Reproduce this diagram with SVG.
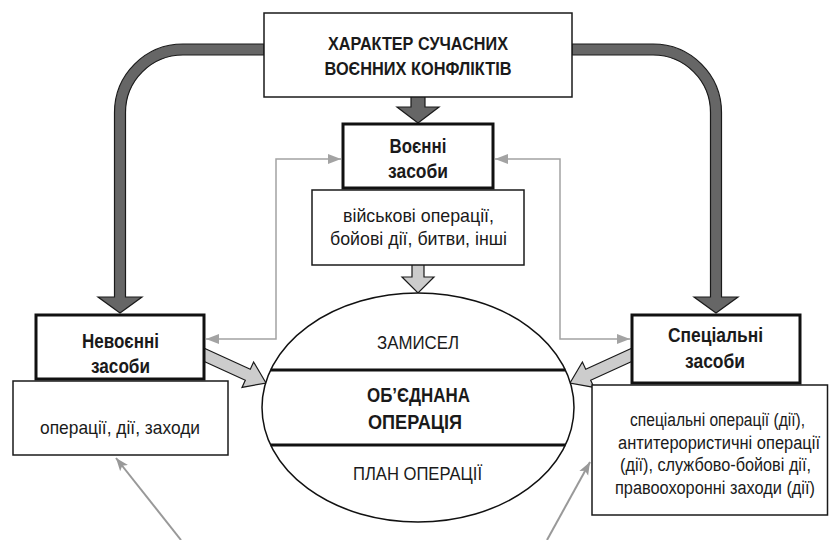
<svg xmlns="http://www.w3.org/2000/svg" width="829" height="540" viewBox="0 0 829 540">
<style>
text{font-family:"Liberation Sans","Arimo",sans-serif;fill:#1a1a1a;text-anchor:middle}
.h{font-weight:bold;font-size:18.5px}
.t{font-weight:bold;font-size:21px}
.o{font-weight:bold;font-size:20px}
.b{font-size:19px}
.box{fill:#fff;stroke:#1a1a1a;stroke-width:1.5}
.bx{fill:#fff;stroke:#111;stroke-width:3}
.dk{fill:#666;stroke:#1a1a1a;stroke-width:1.2;stroke-linejoin:miter}
.lt{fill:#ccc;stroke:#1a1a1a;stroke-width:1.2}
.thin{fill:none;stroke:#a3a3a3;stroke-width:1.5}
.diag{fill:none;stroke:#999;stroke-width:2}
</style>
<defs>
<marker id="ah" markerUnits="userSpaceOnUse" markerWidth="14" markerHeight="12" refX="13" refY="5" orient="auto-start-reverse" viewBox="0 0 14 10">
<path d="M0,0 L13,5 L0,10 Z" fill="#a3a3a3"/>
</marker>
<marker id="ah2" markerUnits="userSpaceOnUse" markerWidth="14" markerHeight="12" refX="13" refY="5" orient="auto" viewBox="0 0 14 10">
<path d="M0,0 L13,5 L0,10 L3,5 Z" fill="#999"/>
</marker>
<path id="curve" class="dk" d="M264,44 H183 A68.5,68.5 0 0 0 114.5,112.5 V297 H98 L120,313 L142,297 H125.5 V112.5 A57.5,57.5 0 0 1 183,55 H264 Z"/>
<polygon id="diagA" class="lt" points="200.5,346.5 250.3,369.2 253.6,362.0 266,383 242.0,387.4 245.3,380.2 195.5,357.5"/>
</defs>
<g id="connectors">
<use href="#curve"/>
<use href="#curve" transform="matrix(-1,0,0,1,836,0)"/>
<path class="dk" d="M411,97 V107 H397 L418,123 L439,107 H425 V97"/>
<path class="lt" d="M412,265 V277 H402 L418,293 L434,277 H424 V265"/>
<use href="#diagA"/>
<use href="#diagA" transform="matrix(-1,0,0,1,836,0)"/>
<path class="thin" d="M206,339 H276 V159 H341" marker-start="url(#ah)" marker-end="url(#ah)"/>
<path class="thin" d="M630,339 H560 V159 H495" marker-start="url(#ah)" marker-end="url(#ah)"/>
<path class="diag" d="M181,540 L116,458" marker-end="url(#ah2)"/>
<path class="diag" d="M547,540 L590,462" marker-end="url(#ah2)"/>
</g>
<g id="top">
<rect class="box" x="264" y="13" width="308" height="84"/>
<text class="h" x="418" y="50" textLength="180" lengthAdjust="spacingAndGlyphs">ХАРАКТЕР СУЧАСНИХ</text>
<text class="h" x="418" y="75" textLength="187" lengthAdjust="spacingAndGlyphs">ВОЄННИХ КОНФЛІКТІВ</text>
</g>
<g id="military">
<rect class="bx" x="343" y="124" width="150" height="64"/>
<text class="t" x="418" y="153" textLength="57" lengthAdjust="spacingAndGlyphs">Воєнні</text>
<text class="t" x="418" y="178" textLength="60" lengthAdjust="spacingAndGlyphs">засоби</text>
</g>
<g id="military-sub">
<rect class="box" x="312" y="190" width="212" height="75"/>
<text class="b" x="418.5" y="222" textLength="151" lengthAdjust="spacingAndGlyphs">військові операції,</text>
<text class="b" x="418.5" y="245" textLength="177" lengthAdjust="spacingAndGlyphs">бойові дії, битви, інші</text>
</g>
<g id="nonmilitary">
<rect class="bx" x="36" y="315" width="168" height="64"/>
<text class="t" x="120.5" y="348" textLength="77" lengthAdjust="spacingAndGlyphs">Невоєнні</text>
<text class="t" x="120.5" y="373" textLength="59" lengthAdjust="spacingAndGlyphs">засоби</text>
</g>
<g id="nonmilitary-sub">
<rect class="box" x="13" y="381" width="215" height="74"/>
<text class="b" x="120" y="434" textLength="160" lengthAdjust="spacingAndGlyphs">операції, дії, заходи</text>
</g>
<g id="special">
<rect class="bx" x="632" y="315" width="168" height="68"/>
<text class="t" x="715.5" y="342" textLength="95" lengthAdjust="spacingAndGlyphs">Спеціальні</text>
<text class="t" x="715" y="368" textLength="60" lengthAdjust="spacingAndGlyphs">засоби</text>
</g>
<g id="special-sub">
<rect class="box" x="592" y="385" width="235.5" height="130"/>
<g transform="translate(716,0) scale(0.85,1)">
<text class="b" x="1.8" y="426" textLength="205.9" lengthAdjust="spacingAndGlyphs">спеціальні операції (дії),</text>
<text class="b" x="3.5" y="449" textLength="237.6" lengthAdjust="spacingAndGlyphs">антитерористичні операції</text>
<text class="b" x="-0.6" y="471" textLength="224.7" lengthAdjust="spacingAndGlyphs">(дії), службово-бойові дії,</text>
<text class="b" x="-1.2" y="494" textLength="235.3" lengthAdjust="spacingAndGlyphs">правоохоронні заходи (дії)</text>
</g>
</g>
<g id="joint">
<ellipse cx="418" cy="407.5" rx="156" ry="114.5" fill="#fff" stroke="#111" stroke-width="1.5"/>
<line x1="270.6" y1="370" x2="565.4" y2="370" stroke="#111" stroke-width="3"/>
<line x1="270.6" y1="445" x2="565.4" y2="445" stroke="#111" stroke-width="3"/>
<text class="b" x="418" y="349" textLength="82" lengthAdjust="spacingAndGlyphs">ЗАМИСЕЛ</text>
<text class="o" x="418.5" y="402" textLength="103" lengthAdjust="spacingAndGlyphs">ОБ’ЄДНАНА</text>
<text class="o" x="415" y="429" textLength="94" lengthAdjust="spacingAndGlyphs">ОПЕРАЦІЯ</text>
<text class="b" x="417.5" y="480" textLength="129" lengthAdjust="spacingAndGlyphs">ПЛАН ОПЕРАЦІЇ</text>
</g>
</svg>
